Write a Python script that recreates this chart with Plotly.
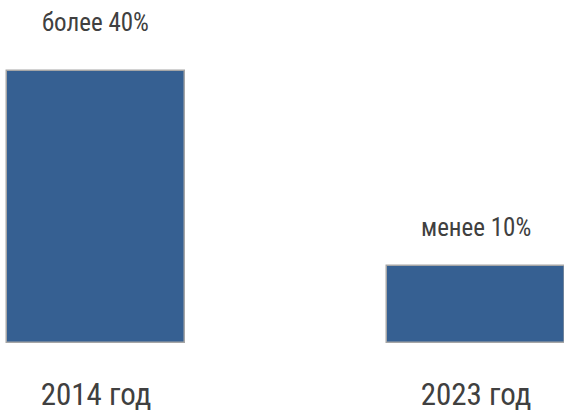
import plotly.graph_objects as go

categories = ["2014 год", "2023 год"]
values = [40, 11.3]
value_labels = ["более 40%", "менее 10%"]
label_shift = [48, 39]

FONT = "Roboto Condensed, Liberation Sans Narrow, DejaVu Sans Condensed, sans-serif"

fig = go.Figure()
fig.add_trace(go.Bar(
    x=[0, 1], y=values, width=0.466,
    marker=dict(color="#366092", line=dict(color="#a6a6a6", width=1.5)),
    hoverinfo="skip",
))
for i, (v, t, s) in enumerate(zip(values, value_labels, label_shift)):
    fig.add_annotation(x=i, y=v, text=t, showarrow=False, yshift=s,
                       font=dict(family=FONT, size=25, color="#404040"))

fig.update_layout(
    width=564, height=412,
    margin=dict(l=0, r=0, t=0, b=69),
    plot_bgcolor="white", paper_bgcolor="white",
    showlegend=False, bargap=0,
    xaxis=dict(range=[-0.2526, 1.2316], tickvals=[0, 1], ticktext=categories,
               showgrid=False, zeroline=False, showline=False, automargin=False,
               ticks="outside", ticklen=0, ticklabelstandoff=24,
               tickfont=dict(family=FONT, size=31, color="#404040")),
    yaxis=dict(range=[0, 50.44], visible=False, automargin=False),
)
fig.write_html("out.html", config={"displayModeBar": False},
               post_script="document.body.style.margin='0';document.body.style.overflow='hidden';")
